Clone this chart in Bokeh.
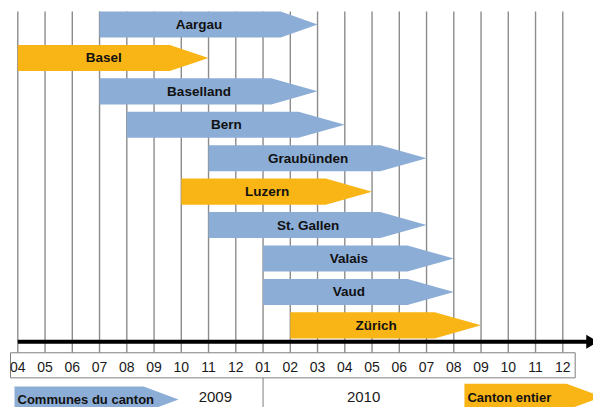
from bokeh.plotting import figure
from bokeh.models import Range1d
from bokeh.core.properties import value
from bokeh.embed import file_html
from bokeh.resources import INLINE

# ---------------- data ----------------
month_labels = ["04", "05", "06", "07", "08", "09", "10", "11", "12",
                "01", "02", "03", "04", "05", "06", "07", "08", "09", "10", "11", "12"]
years = ["2009", "2010"]

cantons = ["Aargau", "Basel", "Baselland", "Bern", "Graubünden",
           "Luzern", "St. Gallen", "Valais", "Vaud", "Zürich"]
start = ["2009-07", "2009-04", "2009-07", "2009-08", "2009-11",
         "2009-10", "2009-11", "2010-01", "2010-01", "2010-02"]
end = ["2010-03", "2009-11", "2010-03", "2010-04", "2010-07",
       "2010-05", "2010-07", "2010-08", "2010-08", "2010-09"]
scope = ["communes", "canton", "communes", "communes", "communes",
         "canton", "communes", "communes", "communes", "canton"]
legend_labels = {"communes": "Communes du canton", "canton": "Canton entier"}

# ---------------- styles ----------------
COL = {"communes": "#8cadd6", "canton": "#f9b515"}
GRID = "#8c8c8c"
FONT = value("Liberation Sans")
HEAD = 1.7
HEAD_OVERRIDE = {"Aargau": 1.35, "Basel": 1.42}
HH = 0.39  # half bar height in row units


def midx(s):
    y, m = s.split("-")
    return (int(y) - 2009) * 12 + int(m) - 4


def arrow(s, e, yc, h):
    return [s, e - h, e, e - h, s], [yc - HH, yc - HH, yc, yc + HH, yc + HH]


p = figure(width=593, height=407,
           x_range=Range1d(-0.635, 21.127), y_range=Range1d(11.457, -0.718),
           x_axis_type=None, y_axis_type=None,
           output_backend="svg", toolbar_location=None, min_border=0)
p.grid.visible = False
p.outline_line_color = None
p.background_fill_color = "white"
p.border_fill_color = "white"

n_months = len(month_labels)
mx = list(range(n_months))

# vertical month lines
p.segment(x0=mx, x1=mx, y0=[-0.389] * n_months, y1=[9.82] * n_months,
          line_color=GRID, line_width=1.4)

# bars
xs, ys, cols, tx, ty = [], [], [], [], []
for i, (c, s, e, sc) in enumerate(zip(cantons, start, end, scope)):
    s0, e0 = midx(s), midx(e)
    h = HEAD_OVERRIDE.get(c, HEAD)
    ax, ay = arrow(s0, e0, i, h)
    xs.append(ax)
    ys.append(ay)
    cols.append(COL[sc])
    tx.append((s0 + e0) / 2 - 0.35)
    ty.append(i)
p.patches(xs=xs, ys=ys, fill_color=cols, line_color=None)
p.text(x=tx, y=ty, text=cantons, text_align="center", text_baseline="middle",
       text_font=FONT, text_font_style="bold", text_font_size="13.5px",
       text_color="#111111")

# time axis arrow
p.segment(x0=[0], x1=[20.9], y0=[9.49], y1=[9.49], line_color="black", line_width=4)
p.patch(x=[20.86, 21.3, 20.86], y=[9.28, 9.49, 9.70], fill_color="black", line_color=None)

# month label box
p.quad(left=[-0.268], right=[20.455], top=[9.82], bottom=[10.57],
       fill_color="white", line_color="#7f7f7f", line_width=1)
p.text(x=mx, y=[10.245] * n_months, text=month_labels, text_align="center",
       text_baseline="middle", text_font=FONT, text_font_size="14px",
       text_color="#1a1a1a")

# year separator and labels
p.segment(x0=[9], x1=[9], y0=[10.57], y1=[11.5], line_color="#7f7f7f", line_width=1)
p.text(x=[7.25, 12.69], y=[11.13, 11.13], text=years, text_align="center",
       text_baseline="middle", text_font=FONT, text_font_size="15px",
       text_color="#1a1a1a")

# legend arrows
lx1, ly1 = arrow(-0.121, 5.897, 11.217, 1.28)
lx2, ly2 = arrow(16.39, 21.44, 11.14, 1.3)
p.patches(xs=[lx1, lx2], ys=[ly1, ly2],
          fill_color=[COL["communes"], COL["canton"]], line_color=None)
p.text(x=[-0.011, 16.5], y=[11.217, 11.15],
       text=[legend_labels["communes"], legend_labels["canton"]],
       text_align="left", text_baseline="middle", text_font=FONT,
       text_font_style="bold", text_font_size="13px", text_color="#111111")

open("out.html", "w").write(file_html(p, INLINE))
